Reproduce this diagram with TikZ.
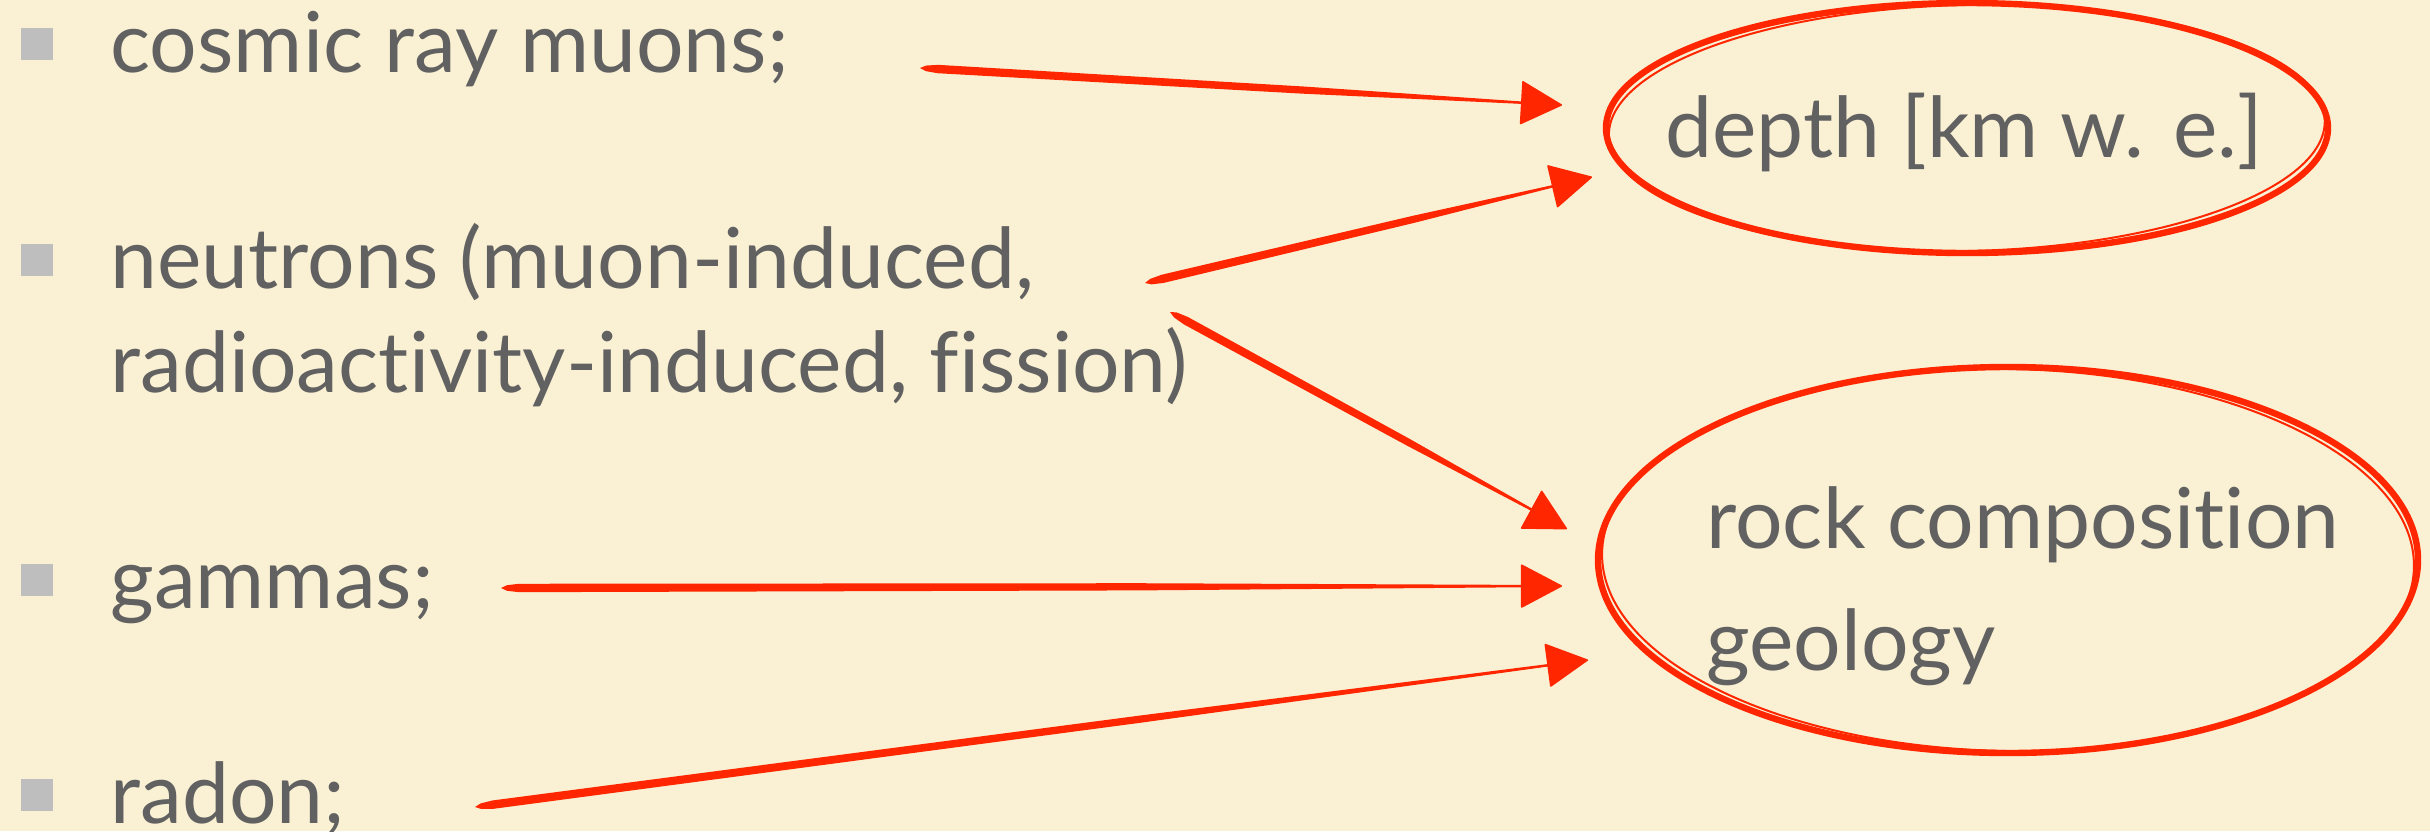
\documentclass[tikz,border=0pt]{standalone}
\usepackage{fontspec}
\setmainfont{Lato}[Ligatures=NoCommon]
\usetikzlibrary{shapes.geometric,arrows.meta,calc}
\definecolor{bgcream}{HTML}{FAF1D4}
\definecolor{txtgray}{HTML}{616161}
\definecolor{bulgray}{HTML}{BEBEBE}
\definecolor{arrowred}{HTML}{FF2600}
\tikzset{
  itemtext/.style={anchor=base west, inner sep=0pt, text=txtgray, font=\fontsize{42}{50}\selectfont},
  bulletbox/.style={fill=bulgray, minimum size=16pt, inner sep=0pt, anchor=north west},
  zone/.style={ellipse, draw=arrowred, line width=3.2pt, inner sep=0pt},
  sketch/.style={draw=arrowred, line width=1pt},
  conn/.style={arrowred, line width=0.8pt, shorten <=3pt, -{Triangle[length=21pt,width=22pt,round]}},
}
\newcommand\mybrush[2]{%
  \fill[arrowred] let \p1=(#1), \p2=(#2), \n1={atan2(\y2-\y1,\x2-\x1)} in
    (#1) -- ($(#1)!3pt!(#2)+(\n1+90:1.4pt)$) -- ($(#1)!9pt!(#2)+(\n1+90:2.1pt)$)
    -- ($(#1)!0.6!(#2)+(\n1+90:1.8pt)$)
    -- ($(#2)!20pt!(#1)+(\n1+90:0.6pt)$) -- ($(#2)!20pt!(#1)+(\n1-90:0.6pt)$)
    -- ($(#1)!0.6!(#2)+(\n1-90:1.8pt)$) -- ($(#1)!9pt!(#2)+(\n1-90:2.1pt)$)
    -- ($(#1)!3pt!(#2)+(\n1-90:1.4pt)$) -- cycle;
  \draw[conn] (#1) -- (#2);}
\begin{document}
\begin{tikzpicture}[x=0.5pt,y=-0.5pt]
\fill[bgcream] (0,0) rectangle (2430,831);
\useasboundingbox (0,0) rectangle (2430,831);
% ellipses
\node[zone, minimum width=361pt, minimum height=125pt] (depth) at (1967,128) {};
\draw[sketch, rotate around={1.2:(depth.center)}] (depth.center) ellipse [x radius=179pt, y radius=61.5pt];
\node[zone, minimum width=410pt, minimum height=193pt] (rock) at (2008,560) {};
\draw[sketch, rotate around={-1:(rock.center)}] (rock.center) ellipse [x radius=203pt, y radius=95.5pt];
% ellipse labels
\node[itemtext, anchor=base] (depthlbl) at (1964,157) {depth [km w. e.]};
\node[itemtext] (rocklbl1) at (1706,548) {rock composition};
\node[itemtext] (rocklbl2) at (1706,670) {geology};
% bullets
\node[bulletbox] (b1) at (21,28) {};
\node[bulletbox] (b2) at (21,244) {};
\node[bulletbox] (b3) at (21,564) {};
\node[bulletbox] (b4) at (21,779) {};
% items
\node[itemtext] (muons) at (110,72) {cosmic ray muons;};
\node[itemtext] (neutrons) at (110,288) {neutrons (muon-induced,};
\node[itemtext] (neutrons2) at (110,392) {radioactivity-induced, fission)};
\node[itemtext] (gammas) at (110,608) {gammas;};
\node[itemtext] (radon) at (110,823) {radon;};
% arrow ends
\coordinate (s1) at (920,68);   \coordinate (t1) at (1562,105);
\coordinate (s2) at (1145,283); \coordinate (t2) at (1592,177);
\coordinate (s3) at (1170,312); \coordinate (t3) at (1567,529);
\coordinate (s4) at (501,588);  \coordinate (t4) at (1562,586);
\coordinate (s5) at (475,807);  \coordinate (t5) at (1588,660);
\mybrush{s1}{t1}
\mybrush{s2}{t2}
\mybrush{s3}{t3}
\mybrush{s4}{t4}
\mybrush{s5}{t5}
\end{tikzpicture}
\end{document}
